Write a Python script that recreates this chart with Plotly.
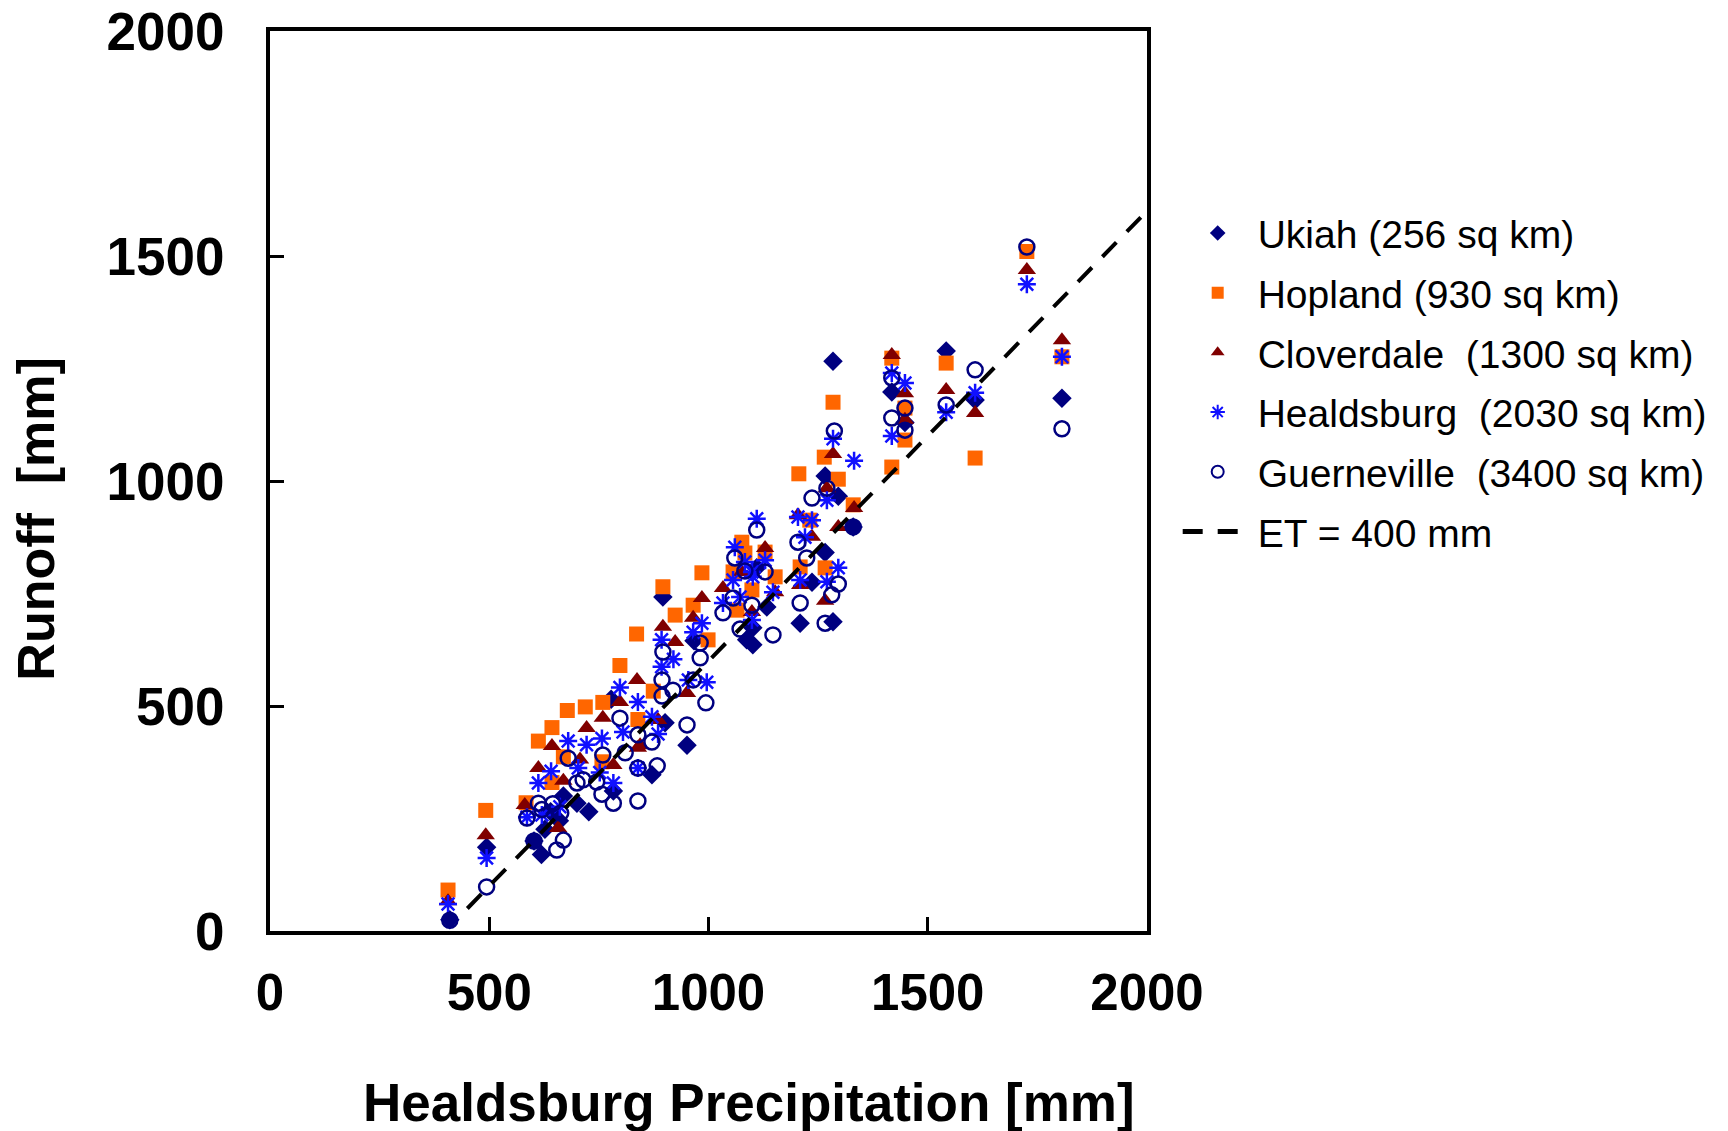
import plotly.graph_objects as go

# ---- data ----
ukiah_x = [410, 494, 602, 619, 627, 640, 660, 669, 700, 727, 783, 871, 778, 896, 901, 951, 967, 1087, 1101, 1101,
           1110, 1133, 1209, 1236, 1266, 1266, 1284, 1284, 1296, 1330, 1418, 1448, 1542, 1608, 1806]
ukiah_y = [25, 186, 200, 170, 226, 265, 245, 300, 284, 265, 311, 347, 515, 742, 463, 413, 645, 647, 636, 674,
           807, 720, 684, 775, 841, 1011, 687, 1266, 966, 898, 1198, 1130, 1289, 1180, 1184]

hopland_x = [406, 492, 584, 612, 643, 643, 669, 678, 719, 757, 759, 798, 836, 839, 874, 896, 924, 965, 985, 999,
             1056, 1065, 1076, 1083, 1099, 1129, 1152, 1206, 1209, 1231, 1264, 1266, 1284, 1296, 1330, 1418, 1418,
             1448, 1448, 1542, 1608, 1726, 1806]
hopland_y = [91, 268, 285, 422, 330, 452, 387, 490, 498, 376, 508, 590, 660, 470, 533, 765, 702, 724, 796, 647,
             798, 713, 864, 840, 758, 842, 787, 1016, 809, 913, 1053, 807, 1175, 1004, 947, 1031, 1273,
             1091, 1162, 1262, 1051, 1510, 1276]

clover_x = [406, 492, 581, 612, 643, 657, 669, 707, 722, 759, 783, 798, 837, 839, 844, 885, 896, 924, 951, 965,
            985, 1033, 1076, 1099, 1129, 1152, 1204, 1209, 1236, 1266, 1270, 1284, 1296, 1332, 1418, 1448, 1448,
            1542, 1608, 1726, 1806]
clover_y = [66, 213, 280, 362, 411, 229, 334, 381, 451, 474, 369, 509, 558, 407, 413, 469, 676, 642, 529, 696,
            740, 762, 798, 709, 851, 753, 924, 769, 876, 734, 984, 1060, 898, 940, 1280, 1195, 1136,
            1202, 1151, 1469, 1313]

heald_x = [406, 494, 586, 612, 620, 641, 661, 680, 703, 722, 752, 757, 783, 798, 805, 839, 839, 871, 885, 893,
           893, 920, 954, 965, 985, 996, 1033, 1056, 1060, 1072, 1083, 1099, 1099, 1101, 1110, 1129, 1147, 1204,
           1209, 1220, 1236, 1270, 1270, 1284, 1296, 1332, 1418, 1418, 1448, 1542, 1608, 1726, 1806]
heald_y = [60, 162, 253, 329, 258, 355, 276, 422, 362, 414, 352, 428, 329, 541, 442, 509, 362, 476, 438, 647,
           587, 604, 558, 664, 684, 553, 729, 780, 853, 742, 820, 798, 691, 787, 916, 824, 753, 920,
           780, 875, 913, 957, 776, 1094, 807, 1045, 1240, 1100, 1218, 1153, 1196, 1437, 1276]

guern_x = [410, 494, 602, 654, 669, 586, 612, 620, 645, 663, 680, 700, 714, 745, 757, 759, 783, 798, 810, 839,
           839, 839, 871, 883, 894, 894, 896, 919, 951, 965, 981, 981, 994, 1033, 1056, 1060, 1072, 1083, 1099,
           1110, 1129, 1147, 1204, 1209, 1224, 1236, 1266, 1270, 1281, 1296, 1287, 1330, 1418, 1418, 1448, 1448,
           1542, 1608, 1726, 1806]
guern_y = [24, 98, 200, 180, 202, 251, 284, 270, 283, 262, 384, 329, 336, 331, 304, 391, 284, 473, 396, 362,
           289, 436, 420, 367, 522, 558, 620, 535, 458, 558, 607, 640, 507, 707, 740, 829, 671, 800, 724,
           891, 798, 658, 864, 729, 829, 962, 684, 984, 747, 771, 1111, 898, 1229, 1140, 1162, 1113,
           1169, 1247, 1520, 1116]

ET = 400
line_x = [450, 2000]
line_y = [v - ET for v in line_x]

series_names = ["Ukiah (256 sq km)", "Hopland (930 sq km)", "Cloverdale  (1300 sq km)",
                "Healdsburg  (2030 sq km)", "Guerneville  (3400 sq km)", "ET = 400 mm"]
x_title = "Healdsburg Precipitation [mm]"
y_title = "Runoff  [mm]"

fig = go.Figure()
fig.add_trace(go.Scatter(x=ukiah_x, y=ukiah_y, mode="markers", name=series_names[0], legendgroup="a",
                         marker=dict(symbol="diamond", size=15, color="#000080")))
fig.add_trace(go.Scatter(x=hopland_x, y=hopland_y, mode="markers", name=series_names[1], legendgroup="b",
                         marker=dict(symbol="square", size=15, color="#FF6600")))
fig.add_trace(go.Scatter(x=clover_x, y=clover_y, mode="markers", name=series_names[2], legendgroup="c",
                         marker=dict(symbol="triangle-up", size=16, color="#800000")))
fig.add_trace(go.Scatter(x=heald_x, y=heald_y, mode="markers", name=series_names[3], legendgroup="d",
                         marker=dict(symbol="asterisk-open", size=15, color="#1010FF",
                                     line=dict(color="#1010FF", width=2.5))))
fig.add_trace(go.Scatter(x=guern_x, y=guern_y, mode="markers", name=series_names[4], legendgroup="e",
                         marker=dict(symbol="circle-open", size=15, color="#000080",
                                     line=dict(color="#000080", width=2.5))))
fig.add_trace(go.Scatter(x=line_x, y=line_y, mode="lines", name=series_names[5], legendgroup="f",
                         line=dict(color="black", width=4, dash="20px,15px")))

axis_common = dict(range=[0, 2000], dtick=500, showgrid=False, zeroline=False, automargin=False,
                   showline=True, linewidth=4, linecolor="black", mirror=True,
                   ticks="inside", ticklen=14, tickwidth=3, tickcolor="black",
                   ticklabeloverflow="allow")

fig.update_layout(
    template="none",
    width=1728, height=1131,
    margin=dict(l=262, r=589, t=23, b=208, autoexpand=False),
    paper_bgcolor="white", plot_bgcolor="white",
    font=dict(family="Liberation Sans", color="black"),
    xaxis=dict(**axis_common, ticklabelstandoff=14,
               tickfont=dict(family="Liberation Sans", size=51, color="black", weight="bold")),
    yaxis=dict(**axis_common, ticklabelstandoff=31,
               tickfont=dict(family="Liberation Sans", size=53, color="black", weight="bold")),
    legend=dict(x=1.035, y=0.811, xanchor="left", yanchor="top",
                font=dict(family="Liberation Sans", size=39, color="black"),
                traceorder="grouped", tracegroupgap=6, itemsizing="constant", itemwidth=70,
                bgcolor="rgba(0,0,0,0)", borderwidth=0),
    showlegend=True,
    annotations=[
        dict(text="<b>" + x_title + "</b>", xref="paper", yref="paper", x=0.546, y=-0.19,
             xanchor="center", yanchor="middle", showarrow=False,
             font=dict(family="Liberation Sans", size=53, color="black")),
        dict(text="<b>" + y_title + "</b>", xref="paper", yref="paper", x=-0.267, y=0.458,
             xanchor="center", yanchor="middle", showarrow=False, textangle=-90,
             font=dict(family="Liberation Sans", size=52, color="black")),
    ],
)

fig.write_html("out.html")
